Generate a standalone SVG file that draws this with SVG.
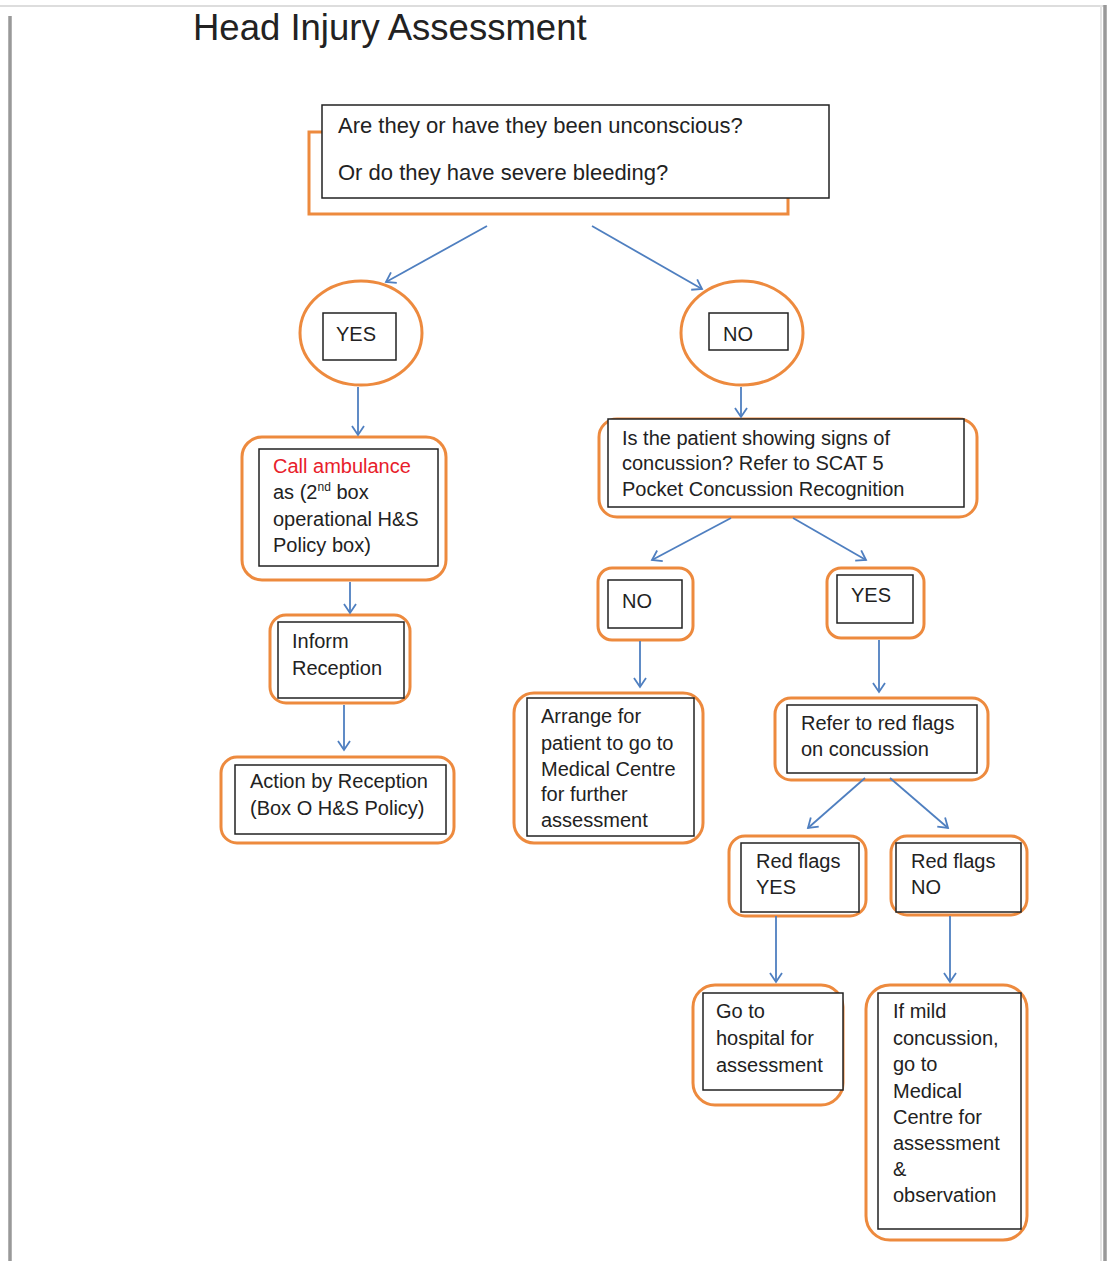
<svg xmlns="http://www.w3.org/2000/svg" width="1109" height="1261" viewBox="0 0 1109 1261">
<defs>
<marker id="arr" markerWidth="14" markerHeight="14" refX="11" refY="7" orient="auto" markerUnits="userSpaceOnUse">
<path d="M2,1 L11,7 L2,13" fill="none" stroke="#4f7fc0" stroke-width="1.8"/>
</marker>
</defs>
<style>
text{font-family:"Liberation Sans",Arial,sans-serif;font-size:20px;fill:#222}
.o{fill:none;stroke:#ed8a3e;stroke-width:3}
.b{fill:#fff;stroke:#222;stroke-width:1.5}
.c line{stroke:#4f7fc0;stroke-width:1.8;marker-end:url(#arr)}
</style>
<rect width="1109" height="1261" fill="#fff"/>
<g id="page">
<line x1="0" y1="6" x2="1104" y2="6" stroke="#ddd" stroke-width="2"/>
<line x1="10" y1="16" x2="10" y2="1261" stroke="#999" stroke-width="3.5"/>
<line x1="1105" y1="5" x2="1105" y2="1261" stroke="#999" stroke-width="3.5"/>
<line x1="1101" y1="5" x2="1101" y2="1261" stroke="#e4e4e4" stroke-width="2"/>
</g>
<text id="title" x="193" y="40" style="font-size:36.5px">Head Injury Assessment</text>
<g id="q1">
<path class="o" d="M322,132 H309 V214 H788 V198"/>
<rect class="b" x="322" y="105" width="507" height="93"/>
<text x="338" y="133" style="font-size:22px">Are they or have they been unconscious?</text>
<text x="338" y="180" style="font-size:22px">Or do they have severe bleeding?</text>
</g>
<g id="yes1">
<ellipse class="o" cx="361" cy="333" rx="61" ry="52"/>
<rect class="b" x="323" y="313" width="73" height="47"/>
<text x="336" y="341">YES</text>
</g>
<g id="no1">
<ellipse class="o" cx="742" cy="333" rx="61" ry="52"/>
<rect class="b" x="709" y="313" width="79" height="37"/>
<text x="723" y="341">NO</text>
</g>
<g id="ambulance">
<rect class="o" x="242" y="437" width="204" height="143" rx="20"/>
<rect class="b" x="259" y="449" width="179" height="117"/>
<text x="273" y="473" style="fill:#e8202a">Call ambulance</text>
<text x="273" y="499">as (2<tspan style="font-size:12px" dy="-8">nd</tspan><tspan dy="8"> box</tspan></text>
<text x="273" y="526">operational H&amp;S</text>
<text x="273" y="552">Policy box)</text>
</g>
<g id="inform">
<rect class="o" x="270" y="615" width="140" height="88" rx="16"/>
<rect class="b" x="278" y="622" width="126" height="76"/>
<text x="292" y="648">Inform</text>
<text x="292" y="675">Reception</text>
</g>
<g id="action">
<rect class="o" x="221" y="757" width="233" height="86" rx="16"/>
<rect class="b" x="235" y="765" width="211" height="69"/>
<text x="250" y="788">Action by Reception</text>
<text x="250" y="815">(Box O H&amp;S Policy)</text>
</g>
<g id="concussion">
<rect class="o" x="599" y="419" width="378" height="98" rx="18"/>
<rect class="b" x="608" y="419" width="356" height="88"/>
<text x="622" y="445">Is the patient showing signs of</text>
<text x="622" y="470">concussion? Refer to SCAT 5</text>
<text x="622" y="496">Pocket Concussion Recognition</text>
</g>
<g id="no2">
<rect class="o" x="598" y="568" width="95" height="72" rx="14"/>
<rect class="b" x="608" y="580" width="74" height="48"/>
<text x="622" y="608">NO</text>
</g>
<g id="arrange">
<rect class="o" x="514" y="693" width="189" height="150" rx="20"/>
<rect class="b" x="527" y="698" width="167" height="138"/>
<text x="541" y="723">Arrange for</text>
<text x="541" y="750">patient to go to</text>
<text x="541" y="776">Medical Centre</text>
<text x="541" y="801">for further</text>
<text x="541" y="827">assessment</text>
</g>
<g id="yes2">
<rect class="o" x="827" y="568" width="97" height="70" rx="14"/>
<rect class="b" x="837" y="575" width="76" height="48"/>
<text x="851" y="602">YES</text>
</g>
<g id="redflags">
<rect class="o" x="775" y="698" width="213" height="82" rx="16"/>
<rect class="b" x="787" y="705" width="190" height="68"/>
<text x="801" y="730">Refer to red flags</text>
<text x="801" y="756">on concussion</text>
</g>
<g id="rfyes">
<rect class="o" x="729" y="836" width="137" height="80" rx="16"/>
<rect class="b" x="741" y="843" width="118" height="69"/>
<text x="756" y="868">Red flags</text>
<text x="756" y="894">YES</text>
</g>
<g id="rfno">
<rect class="o" x="891" y="836" width="136" height="79" rx="16"/>
<rect class="b" x="896" y="843" width="125" height="69"/>
<text x="911" y="868">Red flags</text>
<text x="911" y="894">NO</text>
</g>
<g id="hospital">
<rect class="o" x="693" y="985" width="150" height="120" rx="22"/>
<rect class="b" x="703" y="993" width="140" height="97"/>
<text x="716" y="1018">Go to</text>
<text x="716" y="1045">hospital for</text>
<text x="716" y="1072">assessment</text>
</g>
<g id="mild">
<rect class="o" x="866" y="985" width="161" height="255" rx="24"/>
<rect class="b" x="878" y="993" width="143" height="236"/>
<text x="893" y="1018">If mild</text>
<text x="893" y="1045">concussion,</text>
<text x="893" y="1071">go to</text>
<text x="893" y="1098">Medical</text>
<text x="893" y="1124">Centre for</text>
<text x="893" y="1150">assessment</text>
<text x="893" y="1176">&amp;</text>
<text x="893" y="1202">observation</text>
</g>
<g id="connectors" class="c">
<line x1="487" y1="226" x2="386" y2="282"/>
<line x1="592" y1="226" x2="702" y2="289"/>
<line x1="358" y1="387" x2="358" y2="435"/>
<line x1="741" y1="387" x2="741" y2="417"/>
<line x1="350" y1="582" x2="350" y2="613"/>
<line x1="344" y1="705" x2="344" y2="750"/>
<line x1="731" y1="518" x2="652" y2="560"/>
<line x1="793" y1="518" x2="866" y2="560"/>
<line x1="640" y1="641" x2="640" y2="687"/>
<line x1="879" y1="640" x2="879" y2="692"/>
<line x1="865" y1="778" x2="808" y2="828"/>
<line x1="890" y1="778" x2="948" y2="828"/>
<line x1="776" y1="916" x2="776" y2="982"/>
<line x1="950" y1="916" x2="950" y2="982"/>
</g>
</svg>
